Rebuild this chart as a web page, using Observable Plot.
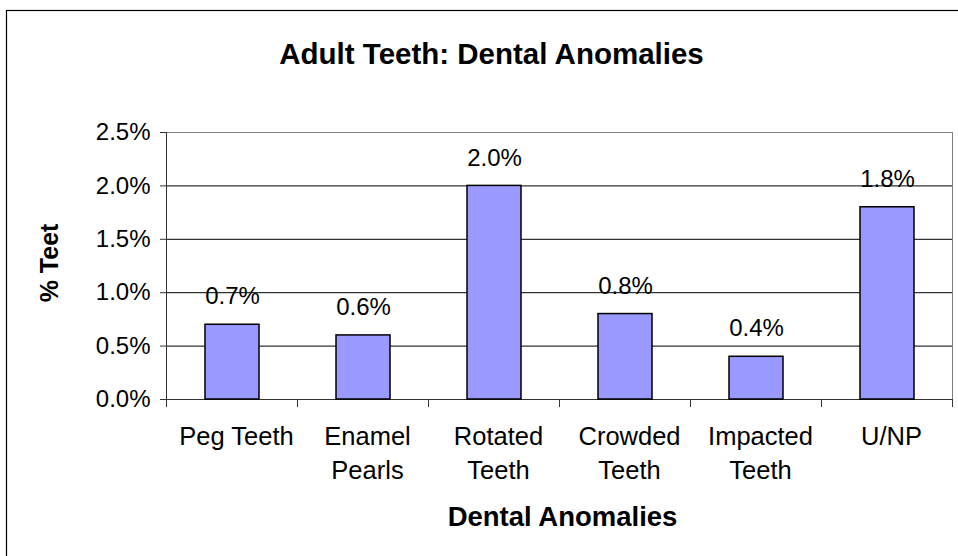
<!DOCTYPE html>
<html>
<head>
<meta charset="utf-8">
<script src="https://cdn.jsdelivr.net/npm/d3@7"></script>
<script src="https://cdn.jsdelivr.net/npm/@observablehq/plot@0.6"></script>
<style>
  html, body { margin: 0; padding: 0; background: white; }
  #chart { width: 958px; height: 556px; overflow: hidden; }
</style>
</head>
<body>
<div id="chart"></div>
<script>
const categories = ["Peg Teeth", "Enamel Pearls", "Rotated Teeth", "Crowded Teeth", "Impacted Teeth", "U/NP"];
const categoryLabels = ["Peg Teeth", "Enamel\nPearls", "Rotated\nTeeth", "Crowded\nTeeth", "Impacted\nTeeth", "U/NP"];
const values = [0.007, 0.006, 0.020, 0.008, 0.004, 0.018];
const yTicks = [0, 0.005, 0.010, 0.015, 0.020, 0.025];
const gridTicks = [0.005, 0.010, 0.015, 0.020];
const titleText = "Adult Teeth: Dental Anomalies";
const yLabel = "% Teet";
const xLabel = "Dental Anomalies";

const data = categories.map((c, i) => ({category: c, value: values[i]}));
const pct = d3.format(".1%");
const font = "'Liberation Sans', Arial, sans-serif";

const chart = Plot.plot({
  width: 958,
  height: 556,
  marginLeft: 166,
  marginRight: 6,
  marginTop: 132,
  marginBottom: 157,
  style: {fontFamily: font, background: "white", color: "black"},
  x: {domain: categories, paddingInner: 0.59, paddingOuter: 0.295, axis: null},
  y: {domain: [0, 0.025], axis: null},
  marks: [
    Plot.gridY(gridTicks, {stroke: "black", strokeOpacity: 1, strokeWidth: 1}),
    Plot.frame({stroke: "#808080"}),
    Plot.frame({anchor: "left", stroke: "#333"}),
    Plot.frame({anchor: "bottom", stroke: "#333"}),
    Plot.axisY(yTicks, {tickFormat: pct, tickSize: 6, tickPadding: 10, fontSize: 24, label: null, stroke: "#333"}),
    Plot.axisX({tickSize: 0, tickPadding: 21, fontSize: 25.5, lineHeight: 1.333, lineAnchor: "top", dx: 4,
      tickFormat: d => categoryLabels[categories.indexOf(d)], label: null}),
    Plot.barY(data, {x: "category", y: "value", fill: "#9999FF", stroke: "black", strokeWidth: 1.5}),
    Plot.text(data, {x: "category", y: "value", text: d => pct(d.value), dy: -28, fontSize: 24, fill: "black"}),
    Plot.text([titleText], {frameAnchor: "top", lineAnchor: "middle", textAnchor: "middle", dy: -78, dx: -68, fontSize: 29.5, fontWeight: "bold", fill: "black"}),
    Plot.text([yLabel], {frameAnchor: "left", lineAnchor: "middle", textAnchor: "middle", dx: -117, dy: -3, rotate: -90, fontSize: 25, fontWeight: "bold", fill: "black"}),
    Plot.text([xLabel], {frameAnchor: "bottom", lineAnchor: "middle", textAnchor: "middle", dy: 118, dx: 3, fontSize: 27.5, fontWeight: "bold", fill: "black"})
  ]
});

document.getElementById("chart").appendChild(chart);

// category boundary ticks below the x axis, placed from the band scale
const sx = chart.scale("x");
const sy = chart.scale("y");
const y0 = sy.apply(0);
const gap = (sx.step - sx.bandwidth) / 2;
const bounds = categories.map(c => sx.apply(c) - gap);
bounds.push(sx.apply(categories[categories.length - 1]) + sx.bandwidth + gap);
const svg = d3.select(chart);
svg.append("g").selectAll("line").data(bounds).join("line")
  .attr("x1", d => d).attr("x2", d => d)
  .attr("y1", y0).attr("y2", y0 + 8)
  .attr("stroke", "#333");

// outer chart-area border
svg.append("rect")
  .attr("x", 6.5).attr("y", 10.5)
  .attr("width", 1200).attr("height", 1200)
  .attr("fill", "none").attr("stroke", "black").attr("stroke-width", 1.2);
</script>
</body>
</html>
